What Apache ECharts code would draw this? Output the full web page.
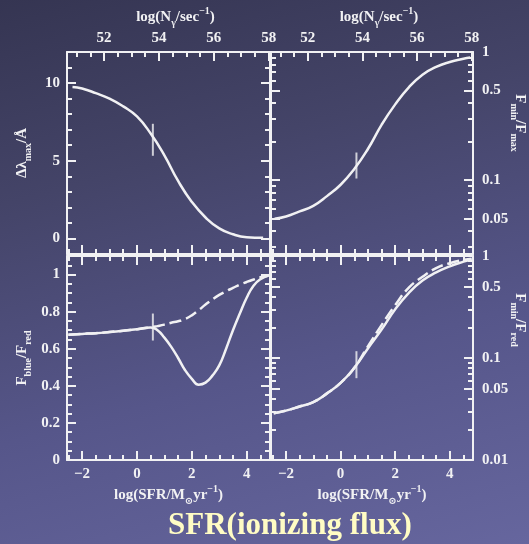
<!DOCTYPE html>
<html>
<head>
<meta charset="utf-8">
<script src="https://cdn.jsdelivr.net/npm/echarts@6/dist/echarts.min.js"></script>
<style>
  html, body { margin: 0; padding: 0; width: 529px; height: 544px; overflow: hidden; }
  body { background: linear-gradient(165deg, #353552 0%, #444468 30%, #56568a 65%, #66669e 100%); }
  #chart { width: 529px; height: 544px; }
</style>
</head>
<body>
<div id="chart"></div>
<script>
// ---- curve samples: log SFR on x ----
// top left: peak shift of the line (Angstrom)
const sfrShift = [-2.35, -2, -1.5, -1, -0.5, 0, 0.5, 1, 1.5, 2, 2.5, 3, 3.5, 4, 4.6];
const peakShift = [9.75, 9.65, 9.35, 9.0, 8.5, 7.85, 6.75, 5.35, 3.7, 2.35, 1.35, 0.65, 0.27, 0.08, 0.04];

// top right: trough-to-peak flux ratio
const sfrTrough = [-2.42, -2, -1.5, -1, -0.5, 0, 0.5, 1, 1.5, 2, 2.5, 3, 3.5, 4, 4.5, 4.75];
const troughRatio = [0.050, 0.052, 0.057, 0.063, 0.075, 0.092, 0.122, 0.175, 0.27, 0.39, 0.53, 0.665, 0.765, 0.835, 0.885, 0.905];

// bottom left: blue / red peak ratio (solid and dashed models)
const sfrBlueRed = [-2.5, -2, -1.5, -1, -0.5, 0, 0.5, 0.75, 1, 1.25, 1.5, 1.75, 2, 2.25, 2.5, 2.75, 3, 3.25, 3.5, 3.75, 4, 4.25, 4.5, 4.8];
const blueRedSolid = [0.676, 0.68, 0.684, 0.69, 0.697, 0.705, 0.715, 0.70, 0.66, 0.61, 0.55, 0.485, 0.438, 0.406, 0.417, 0.455, 0.51, 0.60, 0.70, 0.79, 0.875, 0.94, 0.975, 0.995];
const blueRedDashed = [0.676, 0.68, 0.684, 0.69, 0.697, 0.705, 0.715, 0.722, 0.73, 0.74, 0.748, 0.76, 0.78, 0.808, 0.838, 0.866, 0.89, 0.91, 0.928, 0.946, 0.96, 0.973, 0.985, 0.995];

// bottom right: trough / red peak ratio (solid and dashed models)
const sfrMinRed = [-2.45, -2, -1.5, -1, -0.5, 0, 0.5, 1, 1.5, 2, 2.5, 3, 3.5, 4, 4.5, 4.8];
const minRedSolid = [0.0288, 0.0305, 0.0335, 0.037, 0.045, 0.057, 0.080, 0.124, 0.19, 0.30, 0.435, 0.575, 0.69, 0.79, 0.88, 0.93];
const minRedDashed = [0.0288, 0.0305, 0.0335, 0.037, 0.045, 0.057, 0.080, 0.13, 0.21, 0.33, 0.49, 0.625, 0.76, 0.85, 0.915, 0.94];

// reference object marked on every curve
const markSFR = 0.58;
const markValues = [6.35, 0.13, 0.717, 0.086];

// ---- axis ranges and ticks ----
const sfrRange = [-2.55, 4.85];
const photonOffset = 53.2;            // log N_gamma = log SFR + offset
const photonRange = [sfrRange[0] + photonOffset, sfrRange[1] + photonOffset];
const sfrTicks = [-2, 0, 2, 4];
const sfrMinor = [-2.5, -1.5, -1, -0.5, 0.5, 1, 1.5, 2.5, 3, 3.5, 4.5];
const photonTicks = [52, 54, 56, 58];
const photonMinor = [51, 51.5, 52.5, 53, 53.5, 54.5, 55, 55.5, 56.5, 57, 57.5];

const shiftRange = [-1, 12];
const shiftTicks = [0, 5, 10];
const shiftMinor = [-1, 1, 2, 3, 4, 6, 7, 8, 9, 11, 12];

const blueRedRange = [0, 1.1];
const blueRedTicks = [0, 0.2, 0.4, 0.6, 0.8, 1];
const blueRedMinor = [0.05, 0.1, 0.15, 0.25, 0.3, 0.35, 0.45, 0.5, 0.55, 0.65, 0.7, 0.75, 0.85, 0.9, 0.95, 1.05];

const troughRange = [0.0265, 1];
const troughTicks = [0.05, 0.1, 0.5, 1];
const troughMinor = [0.03, 0.04, 0.06, 0.07, 0.08, 0.09, 0.2, 0.3, 0.4, 0.6, 0.7, 0.8, 0.9];

const minRedRange = [0.01, 1];
const minRedTicks = [0.01, 0.05, 0.1, 0.5, 1];
const minRedMinor = [0.02, 0.03, 0.04, 0.06, 0.07, 0.08, 0.09, 0.2, 0.3, 0.4, 0.6, 0.7, 0.8, 0.9];

// ---- styling ----
const ink = '#f1f1f3';
const serif = "'Liberation Serif', 'DejaVu Serif', serif";
const rich = {
  m: { fontSize: 15, fontWeight: 'bold', fontFamily: serif, color: ink, lineHeight: 22 },
  s: { fontSize: 10, fontWeight: 'bold', fontFamily: serif, color: ink, lineHeight: 11, verticalAlign: 'bottom' },
  p: { fontSize: 10, fontWeight: 'bold', fontFamily: serif, color: ink, lineHeight: 11, verticalAlign: 'top' }
};
const names = {
  photon: '{m|log(N}{s|γ}{m|/sec}{p|−1}{m|)}',
  sfr: '{m|log(SFR/M}{s|⊙}{m|yr}{p|−1}{m|)}',
  shift: '{m|Δλ}{s|max}{m|/Å}',
  blueRed: '{m|F}{s|blue}{m|/F}{s|red}',
  trough: '{m|F}{s|min}{m|/F}{s|max}',
  minRed: '{m|F}{s|min}{m|/F}{s|red}'
};

const MAJOR = 9, MINOR = 5;

function fmt(v) {
  const n = +Number(v).toPrecision(4);
  return n < 0 ? '−' + Math.abs(n) : String(n);
}

function makeAxis(o) {
  const a = {
    type: o.type || 'value',
    gridIndex: o.grid,
    position: o.position,
    min: o.range[0],
    max: o.range[1],
    axisLine: { show: !!o.line, onZero: false, lineStyle: { color: ink, width: 2 } },
    axisTick: { show: true, inside: true, length: o.len, customValues: o.ticks, lineStyle: { color: ink, width: 2 } },
    axisLabel: { show: false },
    splitLine: { show: false },
    minorTick: { show: false },
    minorSplitLine: { show: false }
  };
  if (a.type === 'log') a.logBase = 10;
  if (o.labels) {
    a.axisLabel = {
      show: true, customValues: o.ticks, margin: o.margin, color: ink,
      fontFamily: serif, fontWeight: 'bold', fontSize: 15, formatter: fmt
    };
  }
  if (o.name) {
    a.name = o.name;
    a.nameLocation = 'middle';
    a.nameGap = o.nameGap;
    if (o.nameRotate !== undefined) a.nameRotate = o.nameRotate;
    a.nameTextStyle = { rich: rich, padding: o.namePad || 0 };
    a.nameMoveOverlap = false;
  }
  return a;
}

const grids = [
  { left: 67, top: 52, width: 203, height: 202, outerBoundsMode: 'none' },
  { left: 271, top: 52, width: 202, height: 202, outerBoundsMode: 'none' },
  { left: 67, top: 256, width: 203, height: 204, outerBoundsMode: 'none' },
  { left: 271, top: 256, width: 202, height: 204, outerBoundsMode: 'none' }
];

// y scale description of each panel
const panels = [
  { type: 'value', range: shiftRange, ticks: shiftTicks, minor: shiftMinor, name: names.shift, top: true, left: true },
  { type: 'log', range: troughRange, ticks: troughTicks, minor: troughMinor, name: names.trough, top: true, left: false, namePad: [0, 60, 0, 0] },
  { type: 'value', range: blueRedRange, ticks: blueRedTicks, minor: blueRedMinor, name: names.blueRed, top: false, left: true },
  { type: 'log', range: minRedRange, ticks: minRedTicks, minor: minRedMinor, name: names.minRed, top: false, left: false, namePad: [0, 76, 0, 0] }
];

const xAxes = [], yAxes = [];
const mainX = [], mainY = [];

panels.forEach(function (p, g) {
  // bottom edge: log SFR
  mainX.push(xAxes.length);
  xAxes.push(makeAxis({ grid: g, position: 'bottom', range: sfrRange, ticks: sfrTicks, len: MAJOR, line: true,
    labels: !p.top, margin: 7, name: p.top ? null : names.sfr, nameGap: 24 }));
  xAxes.push(makeAxis({ grid: g, position: 'bottom', range: sfrRange, ticks: sfrMinor, len: MINOR }));
  // top edge: photon rate on upper panels, plain log SFR ticks below
  if (p.top) {
    xAxes.push(makeAxis({ grid: g, position: 'top', range: photonRange, ticks: photonTicks, len: MAJOR, line: true,
      labels: true, margin: 6, name: names.photon, nameGap: 24, namePad: [0, 0, 0, 14] }));
    xAxes.push(makeAxis({ grid: g, position: 'top', range: photonRange, ticks: photonMinor, len: MINOR }));
  } else {
    xAxes.push(makeAxis({ grid: g, position: 'top', range: sfrRange, ticks: sfrTicks, len: MAJOR, line: true }));
    xAxes.push(makeAxis({ grid: g, position: 'top', range: sfrRange, ticks: sfrMinor, len: MINOR }));
  }
  // left and right edges
  mainY.push(yAxes.length);
  yAxes.push(makeAxis({ grid: g, type: p.type, position: 'left', range: p.range, ticks: p.ticks, len: MAJOR, line: true,
    labels: p.left, margin: 7, name: p.left ? p.name : null, nameGap: 34 }));
  yAxes.push(makeAxis({ grid: g, type: p.type, position: 'left', range: p.range, ticks: p.minor, len: MINOR }));
  yAxes.push(makeAxis({ grid: g, type: p.type, position: 'right', range: p.range, ticks: p.ticks, len: MAJOR, line: true,
    labels: !p.left, margin: 9, name: p.left ? null : p.name, nameGap: 36, nameRotate: -90, namePad: p.namePad }));
  yAxes.push(makeAxis({ grid: g, type: p.type, position: 'right', range: p.range, ticks: p.minor, len: MINOR }));
});

function pairs(xs, ys) { return xs.map(function (x, i) { return [x, ys[i]]; }); }

function curve(g, xs, ys, dashed) {
  return {
    type: 'line', xAxisIndex: mainX[g], yAxisIndex: mainY[g],
    data: pairs(xs, ys), showSymbol: false, smooth: 0.5,
    lineStyle: { color: ink, width: 2.5, type: dashed ? [12, 5] : 'solid' },
    silent: true, z: 3
  };
}

function marker(g, len) {
  return {
    type: 'scatter', xAxisIndex: mainX[g], yAxisIndex: mainY[g],
    data: [[markSFR, markValues[g]]], symbol: 'rect', symbolSize: [2, len],
    itemStyle: { color: ink }, silent: true, z: 4
  };
}

const series = [
  curve(0, sfrShift, peakShift, false),
  curve(1, sfrTrough, troughRatio, false),
  curve(2, sfrBlueRed, blueRedSolid, false),
  curve(2, sfrBlueRed, blueRedDashed, true),
  curve(3, sfrMinRed, minRedSolid, false),
  curve(3, sfrMinRed, minRedDashed, true),
  marker(0, 32), marker(1, 26), marker(2, 27), marker(3, 27)
];

const chart = echarts.init(document.getElementById('chart'));
chart.setOption({
  animation: false,
  backgroundColor: 'transparent',
  title: {
    text: 'SFR(ionizing flux)',
    left: 163, top: 505,
    textStyle: { fontFamily: serif, fontWeight: 'bold', fontSize: 31, color: '#fffcc4' }
  },
  grid: grids,
  xAxis: xAxes,
  yAxis: yAxes,
  series: series
});
</script>
</body>
</html>
